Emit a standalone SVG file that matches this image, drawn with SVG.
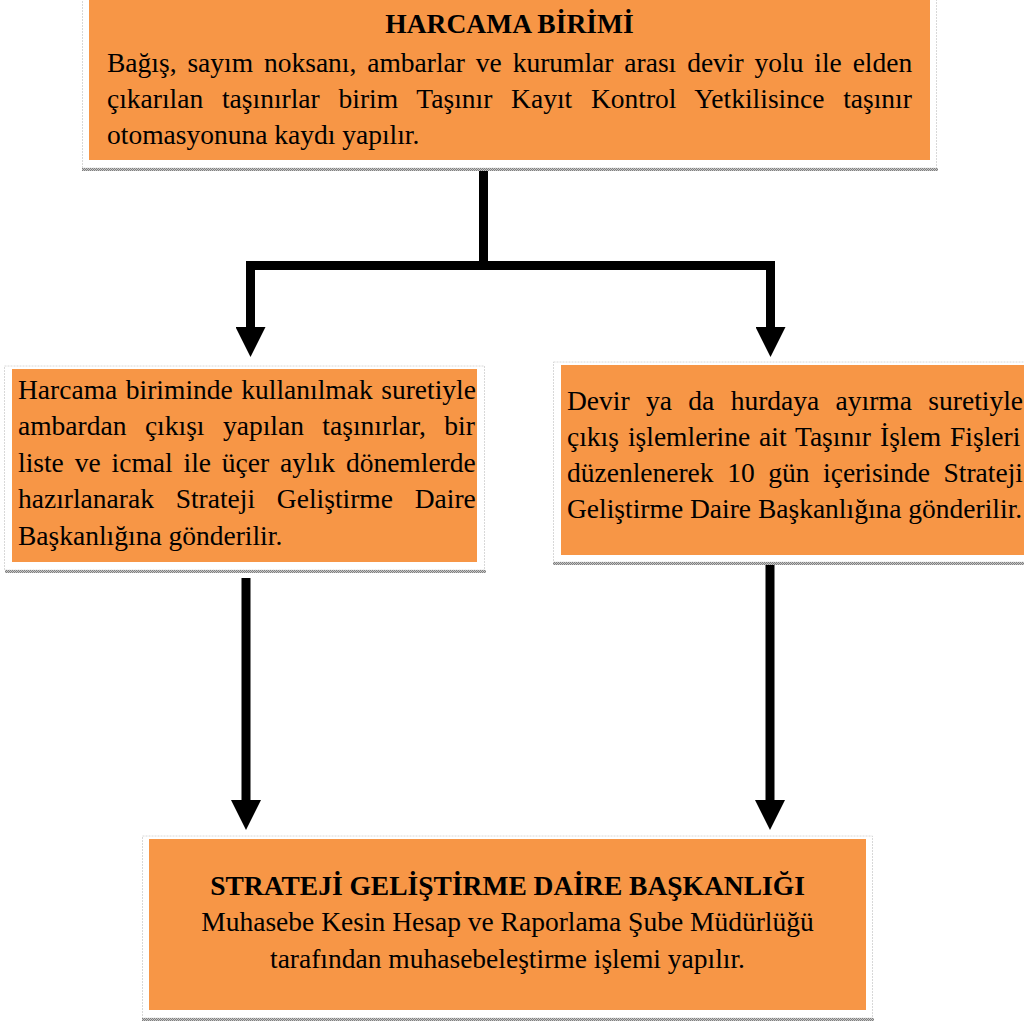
<svg xmlns="http://www.w3.org/2000/svg" width="1024" height="1021" viewBox="0 0 1024 1021">
<defs>
<style>
.frame{fill:#fff;stroke:#d8d8d8;stroke-width:1;stroke-dasharray:2 1}
.box{fill:#F79646}
.shadow{fill:url(#dots)}
.t{font-family:"Liberation Serif","Times New Roman",serif;font-size:27.5px;fill:#000}
.b{font-weight:bold}
.c{text-anchor:middle}
.conn{fill:none;stroke:#000;stroke-width:9;stroke-linejoin:miter;stroke-linecap:butt}
</style>
<pattern id="dots" width="2" height="2" patternUnits="userSpaceOnUse">
<rect width="2" height="2" fill="#c8c8c8"/>
<rect width="1" height="1" fill="#808080"/>
<rect x="1" y="1" width="1" height="1" fill="#808080"/>
</pattern>
<marker id="arr" markerUnits="userSpaceOnUse" viewBox="0 0 30 30" refX="0" refY="15" markerWidth="30" markerHeight="30" orient="auto">
<path d="M0,0 L30,15 L0,30 Z" fill="#000"/>
</marker>
</defs>
<rect width="1024" height="1021" fill="#fff"/>

<g id="connectors">
<path class="conn" d="M483.5,163 V265.5 H250.5 V327" marker-end="url(#arr)"/>
<path class="conn" d="M483.5,265.5 H770.5 V327" marker-end="url(#arr)"/>
<path class="conn" d="M246,578 V800" marker-end="url(#arr)"/>
<path class="conn" d="M770,565 V800" marker-end="url(#arr)"/>
</g>

<g id="harcama-birimi">
<rect class="frame" x="82.5" y="-2" width="854" height="170"/>
<rect class="shadow" x="82" y="168" width="856" height="3"/>
<rect class="box" x="89" y="-2" width="841" height="162"/>
<text class="t b c" x="509.5" y="32.5">HARCAMA BİRİMİ</text>
<text class="t" x="107" y="72" word-spacing="4">Bağış, sayım noksanı, ambarlar ve kurumlar arası devir yolu ile elden</text>
<text class="t" x="107" y="108" word-spacing="11.9">çıkarılan taşınırlar birim Taşınır Kayıt Kontrol Yetkilisince taşınır</text>
<text class="t" x="107" y="144">otomasyonuna kaydı yapılır.</text>
</g>

<g id="sol-kutu">
<rect class="frame" x="4.5" y="366" width="480" height="204"/>
<rect class="shadow" x="5" y="570" width="481" height="3"/>
<rect class="box" x="12" y="369" width="465" height="193"/>
<text class="t" x="18" y="398.5" word-spacing="1.7">Harcama biriminde kullanılmak suretiyle</text>
<text class="t" x="18" y="435" word-spacing="11.6">ambardan çıkışı yapılan taşınırlar, bir</text>
<text class="t" x="18" y="471.5" word-spacing="4">liste ve icmal ile üçer aylık dönemlerde</text>
<text class="t" x="18" y="508" word-spacing="14.9">hazırlanarak Strateji Geliştirme Daire</text>
<text class="t" x="18" y="544.5">Başkanlığına gönderilir.</text>
</g>

<g id="sag-kutu">
<rect class="frame" x="553.5" y="362" width="480" height="200"/>
<rect class="shadow" x="553" y="562" width="471" height="3"/>
<rect class="box" x="561" y="365" width="470" height="190"/>
<text class="t" x="567" y="410" word-spacing="9.5">Devir ya da hurdaya ayırma suretiyle</text>
<text class="t" x="567" y="446" word-spacing="2.1">çıkış işlemlerine ait Taşınır İşlem Fişleri</text>
<text class="t" x="567" y="482" word-spacing="6.7">düzenlenerek 10 gün içerisinde Strateji</text>
<text class="t" x="567" y="518">Geliştirme Daire Başkanlığına gönderilir.</text>
</g>

<g id="strateji-gelistirme">
<rect class="frame" x="142.5" y="836" width="730" height="182"/>
<rect class="shadow" x="142" y="1018" width="732" height="3"/>
<rect class="box" x="149" y="839" width="717" height="171"/>
<text class="t b c" x="507.5" y="895">STRATEJİ GELİŞTİRME DAİRE BAŞKANLIĞI</text>
<text class="t c" x="507.5" y="931">Muhasebe Kesin Hesap ve Raporlama Şube Müdürlüğü</text>
<text class="t c" x="507.5" y="967.5">tarafından muhasebeleştirme işlemi yapılır.</text>
</g>
</svg>
